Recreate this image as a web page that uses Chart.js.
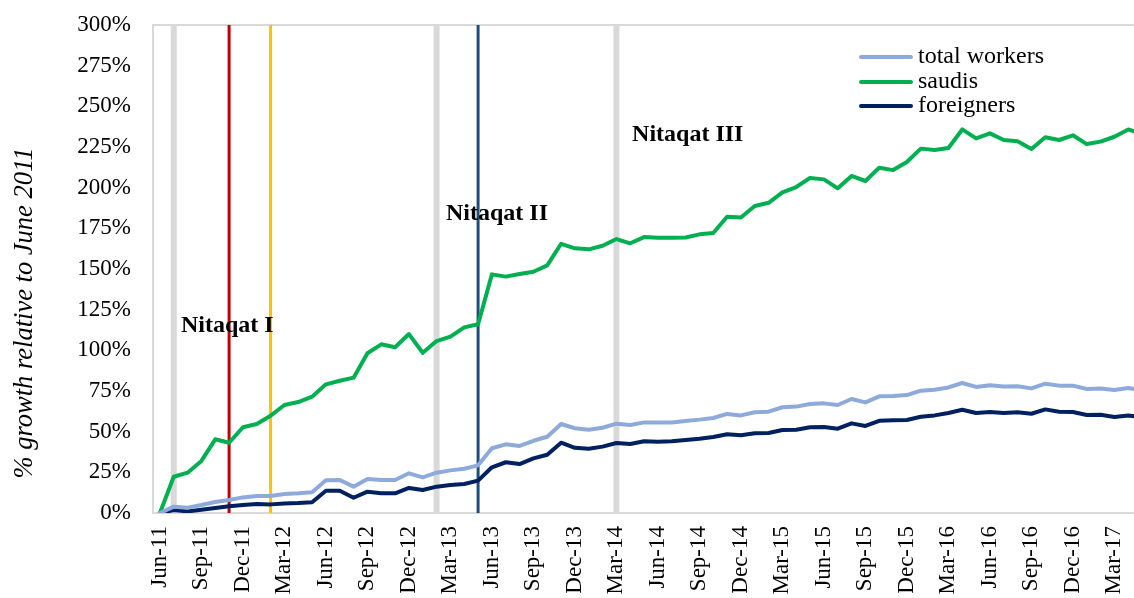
<!DOCTYPE html>
<html lang="en">
<head>
    <meta charset="utf-8" />
    <title>Nitaqat - employment growth</title>
    <script src="https://cdn.jsdelivr.net/npm/chart.js"></script>
    <style>
      html, body { margin: 0; padding: 0; background: #fff; overflow: hidden; }
      .wrap { position: relative; width: 1152px; height: 598px; }
      .legend { position: absolute; left: 859px; top: 43px; font-family: "Liberation Serif", serif; font-size: 24px; color: #000; }
      .legend div { height: 24.5px; line-height: 24.5px; white-space: nowrap; }
      .legend span.swatch { display: inline-block; width: 54px; height: 4px; vertical-align: middle; margin-right: 5px; border-radius: 2px; }
    </style>
</head>
<body>
    <div class="wrap">
        <canvas id="growthChart" width="1152" height="598"></canvas>
        <div class="legend" id="legend"></div>
    </div>

    <script>
        // --- data ---
        const months = [
            "Jun-11","Jul-11","Aug-11","Sep-11","Oct-11","Nov-11","Dec-11","Jan-12","Feb-12","Mar-12","Apr-12","May-12",
            "Jun-12","Jul-12","Aug-12","Sep-12","Oct-12","Nov-12","Dec-12","Jan-13","Feb-13","Mar-13","Apr-13","May-13",
            "Jun-13","Jul-13","Aug-13","Sep-13","Oct-13","Nov-13","Dec-13","Jan-14","Feb-14","Mar-14","Apr-14","May-14",
            "Jun-14","Jul-14","Aug-14","Sep-14","Oct-14","Nov-14","Dec-14","Jan-15","Feb-15","Mar-15","Apr-15","May-15",
            "Jun-15","Jul-15","Aug-15","Sep-15","Oct-15","Nov-15","Dec-15","Jan-16","Feb-16","Mar-16","Apr-16","May-16",
            "Jun-16","Jul-16","Aug-16","Sep-16","Oct-16","Nov-16","Dec-16","Jan-17","Feb-17","Mar-17","Apr-17","May-17"
        ];

        // % growth relative to June 2011
        const totalWorkers = [
            0, 3.9, 3.3, 4.9, 6.8, 8.0, 9.6, 10.4, 10.4, 11.7, 12.1, 12.7,
            20.1, 20.3, 16.2, 20.9, 20.3, 20.3, 24.4, 21.9, 24.8, 26.2, 27.2, 29.3,
            39.8, 42.2, 41.2, 44.4, 46.9, 54.7, 52.1, 51.2, 52.4, 54.9, 54.1, 55.7,
            55.7, 55.7, 56.6, 57.4, 58.4, 60.9, 60.0, 61.9, 62.3, 65.0, 65.4, 67.0,
            67.4, 66.4, 70.1, 68.0, 71.7, 71.9, 72.5, 75.2, 75.8, 77.2, 79.9, 77.5,
            78.5, 77.7, 77.9, 76.6, 79.5, 78.3, 78.3, 76.2, 76.6, 75.6, 76.8, 75.5
        ];
        const saudis = [
            0, 22.3, 24.8, 32.0, 45.3, 43.2, 52.7, 54.7, 59.8, 66.4, 68.2, 71.5,
            79.1, 81.3, 83.2, 98.2, 103.7, 101.9, 110.0, 98.5, 105.7, 108.4, 114.1, 116.0,
            146.7, 145.3, 146.9, 148.3, 152.2, 165.5, 162.7, 162.1, 164.3, 168.4, 165.8, 169.6,
            169.2, 169.2, 169.4, 171.3, 172.1, 182.1, 181.7, 188.7, 190.7, 197.1, 200.4, 206.0,
            205.1, 199.6, 207.2, 204.1, 212.3, 210.8, 215.8, 224.0, 223.2, 224.4, 235.8, 230.3,
            233.4, 229.3, 228.5, 223.8, 231.0, 229.3, 232.2, 226.8, 228.3, 231.3, 235.8, 233.0
        ];
        const foreigners = [
            0, 1.8, 1.0, 2.0, 3.1, 4.1, 4.9, 5.5, 5.3, 5.9, 6.1, 6.6,
            13.7, 13.7, 9.4, 13.1, 12.1, 12.1, 15.4, 14.1, 16.2, 17.2, 17.8, 19.9,
            28.1, 31.2, 30.1, 33.6, 35.8, 43.2, 40.1, 39.5, 40.8, 43.0, 42.4, 44.1,
            43.8, 44.1, 44.9, 45.7, 46.7, 48.4, 47.8, 49.0, 49.2, 51.0, 51.2, 52.7,
            52.9, 51.8, 55.1, 53.5, 56.7, 57.0, 57.2, 59.2, 60.0, 61.5, 63.5, 61.5,
            62.1, 61.5, 61.9, 61.0, 63.7, 62.3, 62.1, 60.2, 60.4, 59.0, 60.0, 58.8
        ];

        // policy dates marked with vertical lines
        const eventMonths = ["Jul-11", "Nov-11", "Feb-12", "Feb-13", "May-13", "Mar-14"];
        const phaseLabels = ["Nitaqat I", "Nitaqat II", "Nitaqat III"];

        // --- styles ---
        const eventStyles = [
            { color: "#d9d9d9", width: 6 },
            { color: "#c00000", width: 3 },
            { color: "#ffc000", width: 3 },
            { color: "#d9d9d9", width: 6 },
            { color: "#1f4e79", width: 3 },
            { color: "#d9d9d9", width: 6 }
        ];
        // where the phase labels sit (category index, % value)
        const phasePos = [
            { x: 1.52, y: 115 },
            { x: 20.68, y: 184 },
            { x: 34.13, y: 232.4 }
        ];

        const series = [
            { label: "total workers", data: totalWorkers, color: "#8eaadb" },
            { label: "saudis", data: saudis, color: "#00b050" },
            { label: "foreigners", data: foreigners, color: "#002060" }
        ];

        // legend (html)
        document.getElementById("legend").innerHTML = series.map(s =>
            '<div><span class="swatch" style="background:' + s.color + '"></span>' + s.label + '</div>'
        ).join("");

        const serif = "'Liberation Serif', 'Times New Roman', serif";

        // frame + vertical event lines behind the data
        const backdrop = {
            id: "backdrop",
            beforeDatasetsDraw(chart) {
                const { ctx, chartArea: a, scales: { x } } = chart;
                ctx.save();
                ctx.strokeStyle = "#d9d9d9";
                ctx.lineWidth = 2;
                ctx.strokeRect(a.left, a.top, a.right - a.left, a.bottom - a.top);
                eventMonths.forEach((m, i) => {
                    const px = x.getPixelForValue(months.indexOf(m));
                    ctx.strokeStyle = eventStyles[i].color;
                    ctx.lineWidth = eventStyles[i].width;
                    ctx.beginPath();
                    ctx.moveTo(px, a.top);
                    ctx.lineTo(px, a.bottom);
                    ctx.stroke();
                });
                ctx.restore();
            }
        };

        // phase labels + y axis title
        const texts = {
            id: "texts",
            afterDatasetsDraw(chart) {
                const { ctx, scales: { x, y } } = chart;
                ctx.save();
                ctx.fillStyle = "#000";
                ctx.font = "bold 24px " + serif;
                ctx.textAlign = "left";
                ctx.textBaseline = "middle";
                phaseLabels.forEach((t, i) => {
                    ctx.fillText(t, x.getPixelForValue(phasePos[i].x), y.getPixelForValue(phasePos[i].y));
                });
                ctx.font = "italic 26.5px " + serif;
                ctx.textAlign = "center";
                ctx.translate(25, 313);
                ctx.rotate(-Math.PI / 2);
                ctx.fillText("% growth relative to June 2011", 0, 0);
                ctx.restore();
            }
        };

        new Chart(document.getElementById("growthChart"), {
            type: "line",
            data: {
                labels: months,
                datasets: series.map(s => ({
                    label: s.label,
                    data: s.data,
                    borderColor: s.color,
                    backgroundColor: s.color,
                    borderWidth: 4,
                    pointRadius: 0,
                    tension: 0,
                    fill: false,
                    borderJoinStyle: "round",
                    borderCapStyle: "round"
                }))
            },
            options: {
                responsive: false,
                animation: false,
                layout: { padding: { top: 25, right: 3, left: 0, bottom: 0 } },
                plugins: {
                    legend: { display: false },
                    tooltip: { enabled: false }
                },
                scales: {
                    x: {
                        type: "category",
                        offset: true,
                        grid: { display: false, drawTicks: false },
                        border: { display: false },
                        ticks: {
                            autoSkip: false,
                            maxRotation: 90,
                            minRotation: 90,
                            padding: 13,
                            color: "#000",
                            font: { family: serif, size: 23 },
                            callback: function (v, i) { return i % 3 === 0 ? months[i] : ""; }
                        },
                        afterFit(scale) {
                            scale.height = 85;
                            scale.paddingLeft = 0;
                            scale.paddingRight = 0;
                        }
                    },
                    y: {
                        min: 0,
                        max: 300,
                        grid: { display: false, drawTicks: false },
                        border: { display: false },
                        ticks: {
                            stepSize: 25,
                            padding: 22,
                            color: "#000",
                            font: { family: serif, size: 23 },
                            callback: v => v + "%"
                        },
                        afterFit(scale) {
                            scale.width = 153;
                            scale.paddingTop = 0;
                            scale.paddingBottom = 0;
                        }
                    }
                }
            },
            plugins: [backdrop, texts]
        });
    </script>
</body>
</html>
